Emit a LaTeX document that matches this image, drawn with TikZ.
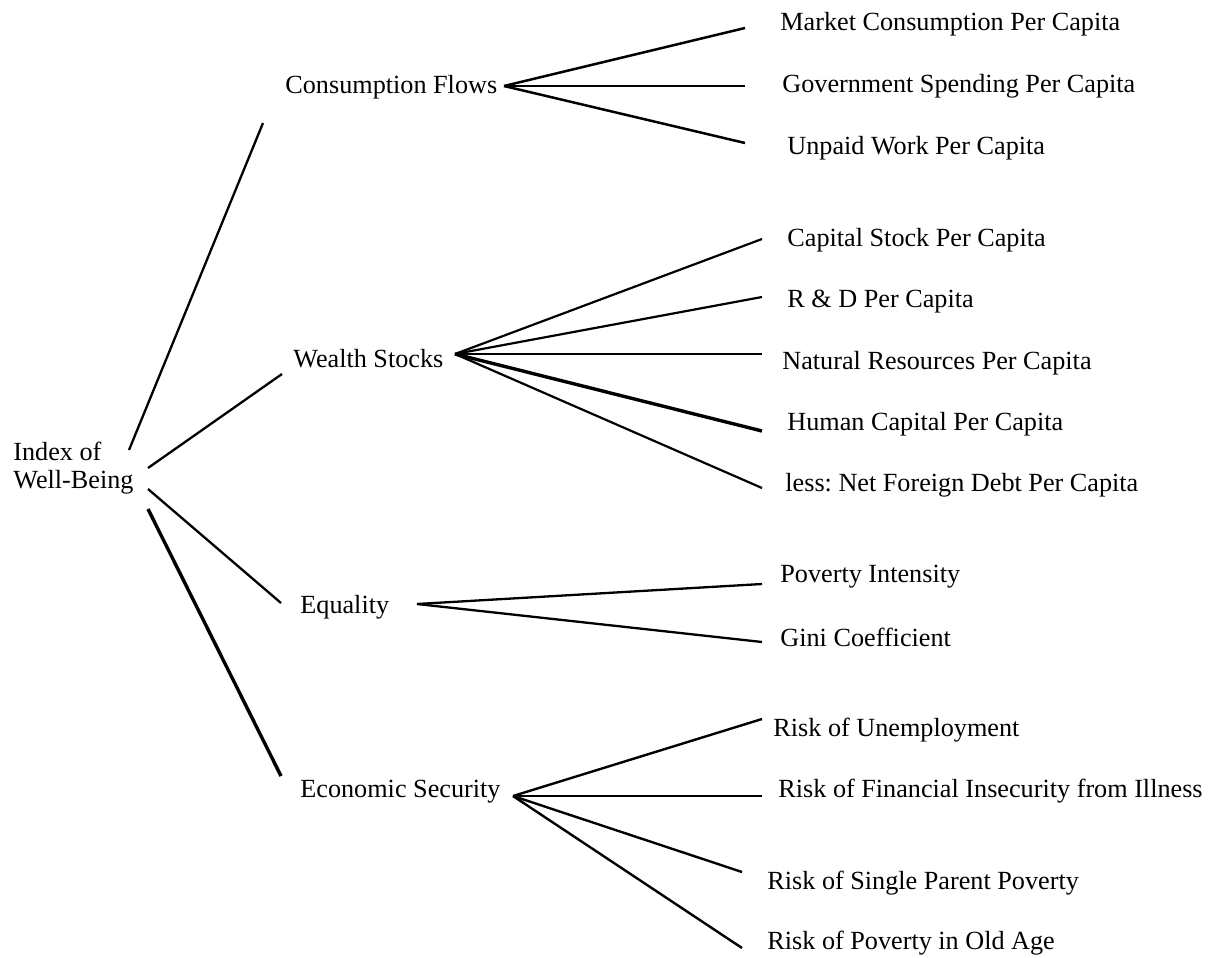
\documentclass[tikz,border=0pt]{standalone}
\usepackage{fontspec}
\setmainfont{Liberation Serif}
\usepackage{tikz}
\usetikzlibrary{positioning}
\frenchspacing

\tikzset{
  label text/.style={font=\fontsize{13.1}{14}\selectfont, inner sep=0pt, anchor=base west},
  branch/.style={line width=1.15pt},
  heavy/.style={line width=1.7pt}
}

\begin{document}
\begin{tikzpicture}[x=0.5pt, y=-0.5pt]
  \useasboundingbox (0,0) rectangle (1215,958);

  % root and the four components
  \node[label text, anchor=west, align=left] (root) at (13,468) {Index of\\Well-Being};
  \node[label text] (cf) at (285,93)  {Consumption Flows};
  \node[label text] (ws) at (293,367) {Wealth Stocks};
  \node[label text] (eq) at (300,613) {Equality};
  \node[label text] (es) at (300,797) {Economic Security};

  % branch ends near the root and the components
  \coordinate (root-cf) at (129,450);  \coordinate (cf-in) at (263,123);
  \coordinate (root-ws) at (148,468);  \coordinate (ws-in) at (282,374);
  \coordinate (root-eq) at (148,489);  \coordinate (eq-in) at (281,603);
  \coordinate (root-es) at (148,509);  \coordinate (es-in) at (281,776);

  \draw[branch] (root-cf) -- (cf-in);
  \draw[branch] (root-ws) -- (ws-in);
  \draw[branch] (root-eq) -- (eq-in);
  \draw[heavy]  (root-es) -- (es-in);

  % hubs of the fans
  \coordinate (cf-hub) at (504,86);
  \coordinate (ws-hub) at (455,354);
  \coordinate (eq-hub) at (417,604);
  \coordinate (es-hub) at (513,796);

  % consumption flows
  \foreach \name/\x/\y/\ex/\ey/\lw/\txt in {
      mcp/780/31/745/28/1.25pt/Market Consumption Per Capita,
      gsp/782/92/745/86/1.25pt/Government Spending Per Capita,
      uwp/787/154/745/143/1.25pt/Unpaid Work Per Capita} {
    \node[label text] (\name) at (\x,\y) {\txt};
    \coordinate (\name-end) at (\ex,\ey);
    \draw[line width=\lw] (cf-hub) -- (\name-end);
  }

  % wealth stocks
  \foreach \name/\x/\y/\ex/\ey/\lw/\txt in {
      csp/787/246/762/239/1.1pt/Capital Stock Per Capita,
      rdp/787/307/762/297/1.1pt/R \& D Per Capita,
      nrp/782/369/762/354/1.1pt/Natural Resources Per Capita,
      hcp/787/430/762/431/1.7pt/Human Capital Per Capita,
      nfd/785/491/762/488/1.1pt/less: Net Foreign Debt Per Capita} {
    \node[label text] (\name) at (\x,\y) {\txt};
    \coordinate (\name-end) at (\ex,\ey);
    \draw[line width=\lw] (ws-hub) -- (\name-end);
  }

  % equality
  \foreach \name/\x/\y/\ex/\ey/\lw/\txt in {
      pvi/780/582/762/584/1.15pt/Poverty Intensity,
      gin/780/646/762/642/1.15pt/Gini Coefficient} {
    \node[label text] (\name) at (\x,\y) {\txt};
    \coordinate (\name-end) at (\ex,\ey);
    \draw[line width=\lw] (eq-hub) -- (\name-end);
  }

  % economic security
  \foreach \name/\x/\y/\ex/\ey/\lw/\txt in {
      rue/773/736/762/719/1.2pt/Risk of Unemployment,
      rfi/778/797/762/796/1.2pt/Risk of Financial Insecurity from Illness,
      rsp/767/889/742/872/1.2pt/Risk of Single Parent Poverty,
      rpo/767/949/742/948/1.2pt/Risk of Poverty in Old Age} {
    \node[label text] (\name) at (\x,\y) {\txt};
    \coordinate (\name-end) at (\ex,\ey);
    \draw[line width=\lw] (es-hub) -- (\name-end);
  }
\end{tikzpicture}
\end{document}
